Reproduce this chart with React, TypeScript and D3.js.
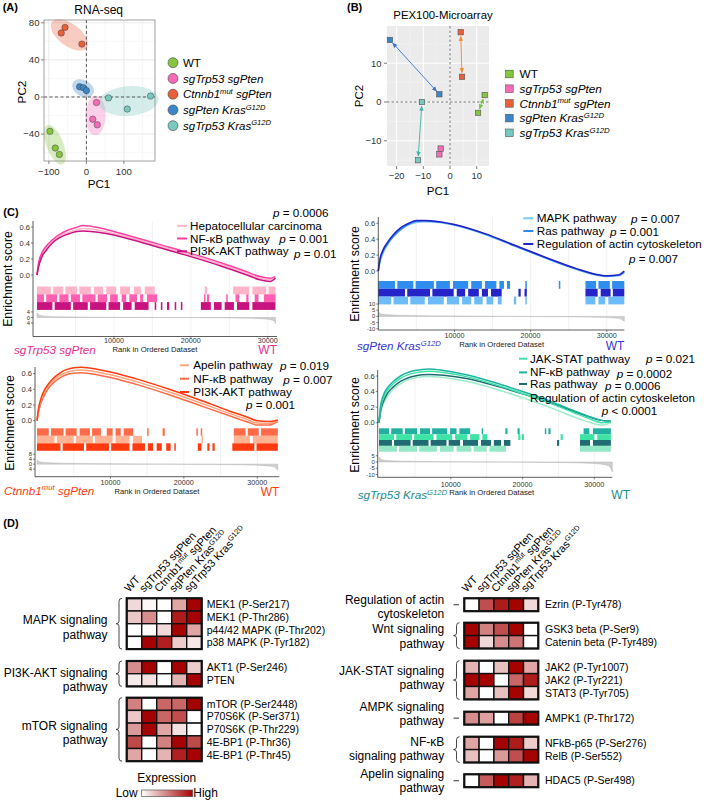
import React from 'react';
import * as d3 from 'd3';

const FONT = 'Arial, "Liberation Sans", Helvetica, sans-serif';

// genotype names, with superscript parts
const genoParts: [string, boolean?][][] = [
  [['WT']],
  [['sgTrp53 sgPten']],
  [['Ctnnb1'], ['mut', true], [' sgPten']],
  [['sgPten Kras'], ['G12D', true]],
  [['sgTrp53 Kras'], ['G12D', true]],
];
const groupColors = ['#86c540', '#f56cb6', '#e95f3a', '#3a86c8', '#78c8bd'];

// ---------- (A) RNA-seq PCA ----------
const rnaWT = [[-97, -37], [-83, -55], [-72, -62]];
const rnaTrpPten = [[27, -6], [17, -24], [29, -30]];
const rnaCtnnbPten = [[-57, 75], [-67, 69], [-12, 57]];
const rnaPtenKras = [[-18, 11], [-8, 10], [0, 7]];
const rnaTrpKras = [[59, -1], [109, -13], [171, 1]];
const rnaGroups = [rnaWT, rnaTrpPten, rnaCtnnbPten, rnaPtenKras, rnaTrpKras];
const rnaTicksX = [-100, 0, 100];
const rnaTicksY = [-40, 0, 40, 80];

// ---------- (B) PEX100 microarray PCA ----------
const pexWT = [[13, 1.8], [10.5, -2.8]];
const pexTrpPten = [[-3.5, -12], [-4, -13.5]];
const pexCtnnbPten = [[4, 18], [4.5, 6.5]];
const pexPtenKras = [[-22.5, 16], [-4, 2]];
const pexTrpKras = [[-10.5, 0], [-12, -15]];
const pexGroups = [pexWT, pexTrpPten, pexCtnnbPten, pexPtenKras, pexTrpKras];
const pexArrowColors = ['#79c43e', null, '#f28a2e', '#3b6fd4', '#3db3a5'];
const pexTicksX = [-20, -10, 0, 10];
const pexTicksY = [-10, 0, 10];

// ---------- (C) GSEA ----------
const ranksTL = [0, 200, 600, 1200, 2000, 3000, 4000, 5000, 6000, 7000, 9000, 12000, 16000, 20000, 24000, 27000, 29000, 30300, 31000];
const esHepatoTL = [0, 0.12, 0.25, 0.34, 0.42, 0.49, 0.53, 0.56, 0.58, 0.575, 0.54, 0.47, 0.36, 0.25, 0.13, 0.03, -0.04, -0.06, -0.03];
const esNfkbTL = [0, 0.15, 0.27, 0.36, 0.44, 0.51, 0.56, 0.59, 0.62, 0.61, 0.57, 0.49, 0.38, 0.27, 0.15, 0.05, -0.02, -0.04, -0.02];
const esPi3kTL = [0, 0.1, 0.22, 0.31, 0.4, 0.47, 0.51, 0.54, 0.55, 0.545, 0.52, 0.45, 0.34, 0.23, 0.11, 0.01, -0.06, -0.08, -0.04];
const hitsHepatoTL = [[0, 1800], [2100, 3400], [3700, 5200], [5500, 7000], [7400, 8600], [9000, 10300], [10800, 12100], [12600, 13500], [14000, 15300], [21800, 22100], [25500, 27600], [28000, 29800], [30100, 31000]];
const hitsNfkbTL = [[0, 900], [1200, 2600], [2900, 4100], [4400, 5600], [5900, 7600], [7900, 9100], [9500, 10500], [11000, 11600], [12000, 13000], [13400, 13800], [14300, 15600], [21700, 21900], [22100, 22400], [24600, 24800], [25800, 26300], [27200, 27500], [28300, 28800], [29500, 31000]];
const hitsPi3kTL = [[0, 2000], [2300, 4400], [4700, 6600], [6900, 9000], [9300, 10800], [11200, 12300], [12700, 14500], [15300, 15500], [16100, 16300], [16900, 17200], [17900, 18100], [18700, 18900], [21300, 22600], [23000, 24000], [24400, 25600], [26000, 27600], [28000, 31000]];
const metricTL = [[0, 3.5], [300, 1.8], [1000, 1], [3000, 0.5], [8000, 0.2], [15000, 0], [23000, -0.2], [28000, -0.6], [30000, -1.2], [30800, -2.5], [31000, -4.5]];

const ranksTR = [0, 200, 600, 1200, 2000, 3000, 4000, 5000, 6000, 8000, 10000, 14000, 18000, 22000, 26000, 28500, 30000, 31500, 32300];
const esMapkTR = [0, 0.1, 0.22, 0.33, 0.43, 0.52, 0.58, 0.61, 0.62, 0.61, 0.575, 0.46, 0.31, 0.16, 0.02, -0.05, -0.07, -0.06, -0.02];
const esRasTR = [0, 0.12, 0.24, 0.34, 0.44, 0.53, 0.59, 0.625, 0.63, 0.615, 0.58, 0.465, 0.315, 0.165, 0.025, -0.045, -0.065, -0.055, -0.01];
const esActinTR = [0, 0.14, 0.26, 0.36, 0.46, 0.55, 0.6, 0.635, 0.635, 0.62, 0.585, 0.47, 0.32, 0.17, 0.03, -0.04, -0.06, -0.05, 0];
const hitsRasTR = [[0, 2200], [2500, 4600], [4900, 7300], [7600, 9400], [9800, 11800], [12200, 13600], [14000, 15500], [15900, 16500], [16900, 17300], [19300, 19500], [23700, 23900], [27200, 28600], [28900, 30400], [30700, 32300]];
const hitsActinTR = [[0, 3500], [3800, 6800], [7100, 9900], [10300, 11400], [11800, 13200], [13600, 14400], [14800, 16200], [18400, 18700], [19200, 19500], [27200, 28800], [29200, 30500], [30800, 32300]];
const hitsMapkTR = [[0, 1700], [2000, 3900], [4200, 6100], [6500, 8600], [9000, 10600], [11000, 12200], [12600, 13700], [14200, 15100], [15700, 16200], [17800, 18100], [19300, 19500], [27200, 28500], [28900, 29800], [30200, 32300]];
const metricTR = [[0, 4], [300, 2.2], [1200, 1.3], [4000, 0.8], [10000, 0.3], [16000, 0], [24000, -0.3], [29000, -0.8], [31500, -1.6], [32300, -4]];

const ranksBL = [0, 200, 600, 1200, 2000, 3000, 4000, 5000, 6000, 8000, 10000, 14000, 18000, 22000, 26000, 28500, 30000, 31500, 32800];
const esPi3kBL = [0, 0.15, 0.3, 0.42, 0.52, 0.6, 0.65, 0.675, 0.68, 0.66, 0.62, 0.52, 0.4, 0.27, 0.13, 0.05, 0, -0.01, 0.01];
const esApelinBL = [0, 0.13, 0.27, 0.39, 0.49, 0.57, 0.615, 0.64, 0.645, 0.625, 0.585, 0.485, 0.365, 0.235, 0.1, 0.02, -0.03, -0.035, 0];
const esNfkbBL = [0, 0.11, 0.24, 0.36, 0.46, 0.54, 0.585, 0.605, 0.61, 0.59, 0.55, 0.45, 0.33, 0.2, 0.07, -0.01, -0.055, -0.055, -0.01];
const hitsNfkbBL = [[0, 1600], [1900, 3600], [3900, 5400], [5800, 7200], [7500, 8700], [9500, 10300], [10700, 11400], [11800, 13100], [15000, 15200], [17100, 17400], [21700, 21900], [22300, 22500], [26800, 28400], [28700, 30200], [30500, 32800]];
const hitsApelinBL = [[0, 2400], [2700, 5000], [5300, 7600], [7900, 10300], [10700, 12600], [13100, 14300], [22400, 22600], [26800, 29000], [29400, 32800]];
const hitsPi3kBL = [[0, 3200], [3500, 6400], [6700, 9800], [10100, 12600], [13000, 14700], [15100, 15800], [16300, 17000], [17600, 18200], [18700, 18900], [21900, 22400], [23200, 23500], [23900, 24200], [26600, 29600], [29900, 32800]];
const metricBL = [[0, 3.5], [300, 2], [1500, 1.2], [5000, 0.6], [10000, 0.25], [17000, 0], [25000, -0.3], [30000, -0.9], [32200, -2], [32800, -5]];

const ranksBR = [0, 200, 600, 1200, 2000, 3000, 4000, 5000, 6000, 7000, 9000, 12000, 16000, 20000, 24000, 27000, 29500, 31000, 32300];
const esNfkbBR = [0, 0.2, 0.35, 0.45, 0.53, 0.6, 0.645, 0.67, 0.685, 0.69, 0.67, 0.62, 0.52, 0.4, 0.27, 0.16, 0.07, 0.03, 0.02];
const esJakBR = [0, 0.17, 0.31, 0.42, 0.5, 0.57, 0.615, 0.64, 0.655, 0.66, 0.645, 0.595, 0.495, 0.375, 0.245, 0.135, 0.045, 0, 0.01];
const esRasBR = [0, 0.14, 0.27, 0.38, 0.46, 0.53, 0.575, 0.6, 0.615, 0.62, 0.61, 0.57, 0.48, 0.37, 0.25, 0.15, 0.07, 0.03, 0.02];
const esActinBR = [0, 0.12, 0.24, 0.34, 0.43, 0.5, 0.55, 0.575, 0.59, 0.595, 0.58, 0.535, 0.44, 0.32, 0.19, 0.08, 0, -0.03, 0];
const hitsNfkbBR = [[0, 1400], [1700, 3300], [3600, 5300], [5700, 7100], [7400, 9500], [9900, 10800], [11200, 12700], [14300, 14500], [17600, 17900], [19300, 19600], [23100, 23300], [23600, 23900], [28500, 29300], [29800, 32300]];
const hitsJakBR = [[0, 2100], [2400, 4600], [4900, 7600], [8000, 10200], [10600, 12300], [12700, 14000], [14400, 15100], [19400, 19700], [19900, 20200], [25300, 25600], [28000, 30000], [30400, 32300]];
const hitsRasBR = [[0, 1800], [2100, 4400], [4700, 6900], [7200, 9400], [9700, 11300], [11700, 13800], [14200, 15600], [16000, 17000], [17400, 18300], [24800, 25100], [28000, 29400], [29800, 32300]];
const hitsActinBR = [[0, 2500], [2800, 5300], [5600, 8100], [8500, 10400], [10800, 12800], [13200, 15000], [15400, 17700], [28000, 32300]];
const metricBR = [[0, 4], [300, 2], [1500, 1], [5000, 0.5], [10000, 0.2], [17000, 0], [25000, -0.4], [30000, -1.2], [32000, -3], [32500, -8]];

// ---------- (D) heatmaps ----------
const mapkProteins = ['MEK1 (P-Ser217)', 'MEK1 (P-Thr286)', 'p44/42 MAPK (P-Thr202)', 'p38 MAPK (P-Tyr182)'];
const mapkExpr = [[0.15, 0.03, 0, 0.35, 1], [0.22, 0.45, 0, 0.9, 1], [0, 0.02, 0.15, 1, 0.35], [0, 1, 0.88, 0.2, 0.1]];
const pi3kProteins = ['AKT1 (P-Ser246)', 'PTEN'];
const pi3kExpr = [[0.45, 1, 0, 1, 0.2], [0.08, 0.12, 0, 0.3, 1]];
const mtorProteins = ['mTOR (P-Ser2448)', 'P70S6K (P-Ser371)', 'P70S6K (P-Thr229)', '4E-BP1 (P-Thr36)', '4E-BP1 (P-Thr45)'];
const mtorExpr = [[0.5, 0, 0.6, 0.6, 1], [0.22, 1, 0.6, 0.7, 0], [0.4, 1, 0.35, 0.12, 0], [0.72, 0, 0.5, 1, 0.72], [0.35, 0, 0.3, 0.88, 1]];
const actinProteins = ['Ezrin (P-Tyr478)'];
const actinExpr = [[0, 0.7, 0.9, 1, 0.15]];
const wntProteins = ['GSK3 beta (P-Ser9)', 'Catenin beta (P-Tyr489)'];
const wntExpr = [[1, 0.5, 0.7, 1, 0], [1, 0.15, 0.45, 0.55, 0]];
const jakProteins = ['JAK2 (P-Tyr1007)', 'JAK2 (P-Tyr221)', 'STAT3 (P-Tyr705)'];
const jakExpr = [[0.3, 0, 0.25, 1, 0.35], [1, 1, 0, 0.6, 0.9], [0.35, 0, 0.25, 1, 0.15]];
const ampkProteins = ['AMPK1 (P-Thr172)'];
const ampkExpr = [[0.45, 0.38, 0, 0.75, 1]];
const nfkbProteins = ['NFkB-p65 (P-Ser276)', 'RelB (P-Ser552)'];
const nfkbExpr = [[0.35, 0, 1, 0.9, 0.2], [0.25, 0, 0.4, 0.7, 1]];
const apelinProteins = ['HDAC5 (P-Ser498)'];
const apelinExpr = [[0, 0.65, 1, 0.88, 0.3]];

const heatColor = d3.scaleLinear<string>().domain([0, 1]).range(['#ffffff', '#a50202']).interpolate(d3.interpolateRgb);

function Rich({ parts, size, ...rest }: any) {
  let up = false;
  const spans = parts.map((p: any, i: number) => {
    const sup = !!p[1];
    let dy = 0;
    if (sup && !up) { dy = -size * 0.38; up = true; }
    else if (!sup && up) { dy = size * 0.38; up = false; }
    return <tspan key={i} dy={dy} fontSize={sup ? size * 0.66 : size}>{p[0]}</tspan>;
  });
  return <text fontSize={size} {...rest}>{spans}</text>;
}

function clusterEllipse(pts: number[][], sx: any, sy: any) {
  const p = pts.map(d => [sx(d[0]), sy(d[1])]);
  const mx = d3.mean(p, d => d[0]) as number;
  const my = d3.mean(p, d => d[1]) as number;
  let sxx = 0, syy = 0, sxy = 0;
  p.forEach(([a, b]) => { sxx += (a - mx) ** 2; syy += (b - my) ** 2; sxy += (a - mx) * (b - my); });
  sxx /= p.length; syy /= p.length; sxy /= p.length;
  const tr = (sxx + syy) / 2, det = Math.sqrt(((sxx - syy) / 2) ** 2 + sxy ** 2);
  const l1 = tr + det, l2 = Math.max(tr - det, 0);
  const ang = 0.5 * Math.atan2(2 * sxy, sxx - syy) * 180 / Math.PI;
  return { cx: mx, cy: my, rx: Math.sqrt(l1) * 1.3 + 7.5, ry: Math.sqrt(l2) * 1.3 + 7.5, ang };
}

function PanelA() {
  const x = d3.scaleLinear().domain([-113, 183]).range([44, 155]);
  const y = d3.scaleLinear().domain([-69, 83]).range([161, 20]);
  const minorX = [-50, 50, 150];
  const minorY = [-60, -20, 20, 60];
  return (
    <g>
      <rect x={44} y={20} width={111} height={141} fill="#fff" />
      {minorX.map(v => <line key={'mx' + v} x1={x(v)} x2={x(v)} y1={20} y2={161} stroke="#f3f3f3" strokeWidth={0.6} />)}
      {minorY.map(v => <line key={'my' + v} y1={y(v)} y2={y(v)} x1={44} x2={155} stroke="#f3f3f3" strokeWidth={0.6} />)}
      {rnaTicksX.map(v => <line key={'gx' + v} x1={x(v)} x2={x(v)} y1={20} y2={161} stroke="#e6e6e6" strokeWidth={0.9} />)}
      {rnaTicksY.map(v => <line key={'gy' + v} y1={y(v)} y2={y(v)} x1={44} x2={155} stroke="#e6e6e6" strokeWidth={0.9} />)}
      {rnaGroups.map((g, i) => {
        const e = clusterEllipse(g, x, y);
        return <ellipse key={'e' + i} cx={e.cx} cy={e.cy} rx={e.rx} ry={e.ry} transform={`rotate(${e.ang} ${e.cx} ${e.cy})`} fill={groupColors[i]} fillOpacity={0.32} />;
      })}
      <line x1={x(0)} x2={x(0)} y1={20} y2={161} stroke="#333" strokeWidth={0.8} strokeDasharray="3,2.5" />
      <line y1={y(0)} y2={y(0)} x1={44} x2={155} stroke="#333" strokeWidth={0.8} strokeDasharray="3,2.5" />
      {rnaGroups.map((g, i) => g.map((d, j) => (
        <circle key={`p${i}-${j}`} cx={x(d[0])} cy={y(d[1])} r={3.2} fill={groupColors[i]} stroke="#444" strokeWidth={0.5} />
      )))}
      <rect x={44} y={20} width={111} height={141} fill="none" stroke="#8a8a8a" strokeWidth={0.8} />
      {rnaTicksX.map(v => (
        <g key={'tx' + v}>
          <line x1={x(v)} x2={x(v)} y1={161} y2={164} stroke="#555" strokeWidth={0.7} />
          <text x={x(v)} y={174.5} fontSize={9.6} textAnchor="middle" fill="#333">{v < 0 ? '\u2212' + Math.abs(v) : v}</text>
        </g>
      ))}
      {rnaTicksY.map(v => (
        <g key={'ty' + v}>
          <line x1={41} x2={44} y1={y(v)} y2={y(v)} stroke="#555" strokeWidth={0.7} />
          <text x={39.5} y={y(v) + 3.4} fontSize={9.6} textAnchor="end" fill="#333">{v < 0 ? '\u2212' + Math.abs(v) : v}</text>
        </g>
      ))}
      <text x={99} y={188} fontSize={11.7} textAnchor="middle">PC1</text>
      <text transform="translate(26,92) rotate(-90)" fontSize={11.7} textAnchor="middle">PC2</text>
      <text x={98.7} y={13.5} fontSize={12} textAnchor="middle">RNA-seq</text>
      {genoParts.map((p, i) => (
        <g key={'lg' + i}>
          <circle cx={173} cy={62.7 + i * 15.75} r={5} fill={groupColors[i]} stroke="#444" strokeWidth={0.6} />
          <Rich parts={p} size={11.5} x={183} y={62.7 + i * 15.75 + 4.1} fontStyle={i === 0 ? 'normal' : 'italic'} />
        </g>
      ))}
    </g>
  );
}

function PanelB() {
  const x = d3.scaleLinear().domain([-23.6, 14.6]).range([387, 489]);
  const y = d3.scaleLinear().domain([-16.5, 19.6]).range([166, 26]);
  const minorX = [-15, -5, 5];
  const minorY = [-15, -5, 5, 15];
  const s = 5.4;
  return (
    <g>
      <defs>
        {pexArrowColors.map((c, i) => c && (
          <marker key={i} id={`pexArrow${i}`} viewBox="0 0 10 10" refX={9} refY={5} markerWidth={5} markerHeight={5} markerUnits="userSpaceOnUse" orient="auto-start-reverse">
            <path d="M0,0.5 L10,5 L0,9.5 z" fill={c} />
          </marker>
        ))}
      </defs>
      <rect x={387} y={26} width={102} height={140} fill="#ebebeb" />
      {minorX.map(v => <line key={'mx' + v} x1={x(v)} x2={x(v)} y1={26} y2={166} stroke="#f6f6f6" strokeWidth={0.5} />)}
      {minorY.map(v => <line key={'my' + v} y1={y(v)} y2={y(v)} x1={387} x2={489} stroke="#f6f6f6" strokeWidth={0.5} />)}
      {pexTicksX.map(v => <line key={'gx' + v} x1={x(v)} x2={x(v)} y1={26} y2={166} stroke="#fff" strokeWidth={1} />)}
      {pexTicksY.map(v => <line key={'gy' + v} y1={y(v)} y2={y(v)} x1={387} x2={489} stroke="#fff" strokeWidth={1} />)}
      <line x1={x(0)} x2={x(0)} y1={26} y2={166} stroke="#555" strokeWidth={0.8} strokeDasharray="2.5,2" />
      <line y1={y(0)} y2={y(0)} x1={387} x2={489} stroke="#555" strokeWidth={0.8} strokeDasharray="2.5,2" />
      {pexGroups.map((g, i) => {
        const c = pexArrowColors[i];
        if (!c) return null;
        const ax = x(g[0][0]), ay = y(g[0][1]), bx = x(g[1][0]), by = y(g[1][1]);
        const L = Math.hypot(bx - ax, by - ay);
        const ux = (bx - ax) / L, uy = (by - ay) / L;
        const sh = 4.2;
        return <line key={'ar' + i} x1={ax + ux * sh} y1={ay + uy * sh} x2={bx - ux * sh} y2={by - uy * sh} stroke={c} strokeWidth={0.9}
          markerStart={`url(#pexArrow${i})`} markerEnd={`url(#pexArrow${i})`} />;
      })}
      {pexGroups.map((g, i) => g.map((d, j) => (
        <rect key={`q${i}-${j}`} x={x(d[0]) - s / 2} y={y(d[1]) - s / 2} width={s} height={s} fill={groupColors[i]} stroke="#555" strokeWidth={0.6} />
      )))}
      {pexTicksX.map(v => (
        <g key={'tx' + v}>
          <line x1={x(v)} x2={x(v)} y1={166} y2={169} stroke="#444" strokeWidth={0.7} />
          <text x={x(v)} y={179} fontSize={9.4} textAnchor="middle" fill="#333">{v < 0 ? '\u2212' + Math.abs(v) : v}</text>
        </g>
      ))}
      {pexTicksY.map(v => (
        <g key={'ty' + v}>
          <line x1={384} x2={387} y1={y(v)} y2={y(v)} stroke="#444" strokeWidth={0.7} />
          <text x={381.5} y={y(v) + 3.3} fontSize={9.4} textAnchor="end" fill="#333">{v < 0 ? '\u2212' + Math.abs(v) : v}</text>
        </g>
      ))}
      <text x={438} y={195} fontSize={11.5} textAnchor="middle">PC1</text>
      <text transform="translate(362.5,96) rotate(-90)" fontSize={11.5} textAnchor="middle">PC2</text>
      <text x={443} y={18.5} fontSize={11.4} textAnchor="middle">PEX100-Microarray</text>
      {genoParts.map((p, i) => (
        <g key={'lg' + i}>
          <rect x={505.6} y={74 + i * 14.7 - 3.8} width={7.6} height={7.6} fill={groupColors[i]} stroke="#555" strokeWidth={0.6} />
          <Rich parts={p} size={11.8} x={519.5} y={74 + i * 14.7 + 4.2} fontStyle={i === 0 ? 'normal' : 'italic'} />
        </g>
      ))}
    </g>
  );
}

const gseaPanels = [
  {
    ranks: ranksTL, xDomain: [0, 31200], xRange: [37, 277], axisLeft: 33,
    esZero: 275, es06: 227, axisTop: 221, hitTop: 286.5, hitH: 7.8,
    metric: metricTL, metricDomain: [-13.7, 4.7], metricRange: [336.5, 311], metricTicks: [4, 0, -4], metricLabels: ['4', '0', '4'],
    bottom: 336.5, xTickY: 342.6, rankX: 155, rankY: 351.7,
    geno: 1, genoColor: '#e6318d', genoX: 14, genoY: 353.8, wtX: 277, wtY: 354.3, esLabelX: 12, esLabelY: 279,
    curves: [
      { es: esHepatoTL, color: '#ffb5c9' }, { es: esNfkbTL, color: '#ff3fa2' }, { es: esPi3kTL, color: '#c8127f' },
    ],
    hits: [{ seg: hitsHepatoTL, color: '#ffb5c9' }, { seg: hitsNfkbTL, color: '#ff5fb0' }, { seg: hitsPi3kTL, color: '#c8127f' }],
    legend: [
      { label: 'Hepatocellular carcinoma', color: '#ffb5c9', p: ' = 0.0006' },
      { label: 'NF-\u03baB pathway', color: '#ff3fa2', p: ' = 0.001' },
      { label: 'PI3K-AKT pathway', color: '#c8127f', p: ' = 0.01' },
    ],
    legX: 190, legMarker: [177, 187], legY: [229.8, 242.5, 255.3], pPos: [[273, 217], [279.3, 243.3], [294, 258.3]],
  },
  {
    ranks: ranksTR, xDomain: [0, 32300], xRange: [378.3, 624.3], axisLeft: 378.3,
    esZero: 271, es06: 223.3, axisTop: 217, hitTop: 281, hitH: 7.8,
    metric: metricTR, metricDomain: [-11, 10], metricRange: [330, 304], metricTicks: [10, 5, 0, -5, -10], metricLabels: ['10', '5', '0', '-5', '-10'],
    bottom: 330, xTickY: 338.3, rankX: 501.7, rankY: 346.7,
    geno: 3, genoColor: '#3535cf', genoX: 357, genoY: 350, wtX: 624.3, wtY: 350, esLabelX: 359, esLabelY: 274,
    curves: [
      { es: esMapkTR, color: '#7cc8f8' }, { es: esRasTR, color: '#2f88ee' }, { es: esActinTR, color: '#2222c8' },
    ],
    hits: [{ seg: hitsRasTR, color: '#2f8df0' }, { seg: hitsActinTR, color: '#2424c8' }, { seg: hitsMapkTR, color: '#6cbcfa' }],
    legend: [
      { label: 'MAPK pathway', color: '#7cc8f8', p: ' = 0.007' },
      { label: 'Ras pathway', color: '#2f88ee', p: ' = 0.001' },
      { label: 'Regulation of actin cytoskeleton', color: '#2222c8', p: ' = 0.007' },
    ],
    legX: 536.7, legMarker: [523.3, 533.3], legY: [222.3, 235, 248], pPos: [[631, 223.3], [610, 236.2], [629, 262.7]],
  },
  {
    ranks: ranksBL, xDomain: [0, 33000], xRange: [37, 279.3], axisLeft: 35,
    esZero: 420.7, es06: 373.6, axisTop: 367, hitTop: 428.3, hitH: 7.5,
    metric: metricBL, metricDomain: [-10, 9], metricRange: [476.5, 453], metricTicks: [8, 4, 0, -4], metricLabels: ['8', '4', '0', '4'],
    bottom: 476.7, xTickY: 484.6, rankX: 157, rankY: 494,
    geno: 2, genoColor: '#ff3c0c', genoX: 4, genoY: 494.5, wtX: 279.3, wtY: 495.8, esLabelX: 13.5, esLabelY: 423,
    curves: [
      { es: esNfkbBL, color: '#ff6a48' }, { es: esApelinBL, color: '#ffa57c' }, { es: esPi3kBL, color: '#ff3a0e' },
    ],
    hits: [{ seg: hitsNfkbBL, color: '#ff6a48' }, { seg: hitsApelinBL, color: '#ffb392' }, { seg: hitsPi3kBL, color: '#ff3a0e' }],
    legend: [
      { label: 'Apelin pathway', color: '#ffa57c', p: ' = 0.019' },
      { label: 'NF-\u03baB pathway', color: '#ff6a48', p: ' = 0.007' },
      { label: 'PI3K-AKT pathway', color: '#ff3a0e', p: ' = 0.001' },
    ],
    legX: 193.3, legMarker: [180, 189], legY: [369.3, 382.7, 396], pPos: [[280, 370], [283.3, 384], [246, 409.3]],
  },
  {
    ranks: ranksBR, xDomain: [0, 32500], xRange: [379, 612.3], axisLeft: 377.7,
    esZero: 422.7, es06: 376, axisTop: 370, hitTop: 428.3, hitH: 5.85,
    metric: metricBR, metricDomain: [-12, 6], metricRange: [477, 454.5], metricTicks: [5, 0, -5, -10], metricLabels: ['5', '0', '-5', '-10'],
    bottom: 477.3, xTickY: 486.7, rankX: 491.7, rankY: 495,
    geno: 4, genoColor: '#1b8b8b', genoX: 357.7, genoY: 499.3, wtX: 630, wtY: 499.3, esLabelX: 359, esLabelY: 425,
    curves: [
      { es: esActinBR, color: '#9eeccc' }, { es: esRasBR, color: '#1f6d72' }, { es: esJakBR, color: '#3fe3a6' }, { es: esNfkbBR, color: '#1fb3a3' },
    ],
    hits: [{ seg: hitsNfkbBR, color: '#22b0a0' }, { seg: hitsJakBR, color: '#3fe3a6' }, { seg: hitsRasBR, color: '#1f6d72' }, { seg: hitsActinBR, color: '#93e8c6' }],
    legend: [
      { label: 'JAK-STAT pathway', color: '#3fe3a6', p: ' = 0.021' },
      { label: 'NF-\u03baB pathway', color: '#1fb3a3', p: ' = 0.0002' },
      { label: 'Ras pathway', color: '#1f6d72', p: ' = 0.0006' },
      { label: 'Regulation of actin cytoskeleton', color: '#c8f5e2', p: ' < 0.0001' },
    ],
    legX: 530, legMarker: [519, 527], legY: [362.7, 376.4, 388, 402.3], pPos: [[646, 362.7], [616.7, 377.6], [605, 389.6], [601.7, 415.3]],
  },
];

function Gsea({ g }: { g: any }) {
  const x = d3.scaleLinear().domain(g.xDomain).range(g.xRange);
  const es = d3.scaleLinear().domain([0, 0.6]).range([g.esZero, g.es06]);
  const m = d3.scaleLinear().domain(g.metricDomain).range(g.metricRange);
  const right = g.xRange[1];
  const line = (vals: number[]) => d3.line().x((d: any, i: number) => x(g.ranks[i])).y((d: any) => es(d)).curve(d3.curveMonotoneX)(vals as any) as string;
  const area = d3.area().x((d: any) => x(d[0])).y0(m(0)).y1((d: any) => m(d[1])).curve(d3.curveMonotoneX)(g.metric) as string;
  const grid = d3.range(5000, g.xDomain[1], 5000);
  const xTicks = [10000, 20000, 30000];
  const esTicks = [0, 0.2, 0.4, 0.6];
  return (
    <g>
      {grid.map((r: number) => <line key={'g' + r} x1={x(r)} x2={x(r)} y1={g.axisTop} y2={g.bottom} stroke="#ececec" strokeWidth={0.7} />)}
      <path d={area} fill="#cfcfcf" stroke="#a8a8a8" strokeWidth={0.4} />
      {g.hits.map((h: any, r: number) => h.seg.map((s: number[], k: number) => (
        <rect key={`h${r}-${k}`} x={x(s[0])} y={g.hitTop + r * g.hitH} width={Math.max(x(s[1]) - x(s[0]), 0.9)} height={g.hitH} fill={h.color} />
      )))}
      {g.curves.map((c: any, i: number) => <path key={'c' + i} d={line(c.es)} fill="none" stroke={c.color} strokeWidth={1.5} />)}
      <line x1={g.axisLeft} x2={g.axisLeft} y1={g.axisTop} y2={g.bottom} stroke="#333" strokeWidth={0.8} />
      <line x1={g.axisLeft} x2={right} y1={g.bottom} y2={g.bottom} stroke="#333" strokeWidth={0.8} />
      {esTicks.map(v => (
        <g key={'e' + v}>
          <line x1={g.axisLeft - 2} x2={g.axisLeft} y1={es(v)} y2={es(v)} stroke="#333" strokeWidth={0.6} />
          <text x={g.axisLeft - 3} y={es(v) + 2.6} fontSize={7.5} textAnchor="end" fill="#333">{v.toFixed(1)}</text>
        </g>
      ))}
      {g.metricTicks.map((v: number, i: number) => (
        <g key={'m' + v}>
          <line x1={g.axisLeft - 2} x2={g.axisLeft} y1={m(v)} y2={m(v)} stroke="#333" strokeWidth={0.6} />
          <text x={g.axisLeft - 3} y={m(v) + 2.1} fontSize={5.8} textAnchor="end" fill="#333">{g.metricLabels[i]}</text>
        </g>
      ))}
      {xTicks.map(v => (
        <g key={'x' + v}>
          <line x1={x(v)} x2={x(v)} y1={g.bottom} y2={g.bottom + 2} stroke="#333" strokeWidth={0.6} />
          <text x={x(v)} y={g.xTickY} fontSize={7.2} textAnchor="middle" fill="#333">{v}</text>
        </g>
      ))}
      <text x={g.rankX} y={g.rankY} fontSize={7.7} textAnchor="middle" fill="#222">Rank in Ordered Dataset</text>
      <text transform={`translate(${g.esLabelX},${g.esLabelY}) rotate(-90)`} fontSize={12.3} textAnchor="middle">Enrichment score</text>
      <Rich parts={genoParts[g.geno]} size={11.7} x={g.genoX} y={g.genoY} fill={g.genoColor} fontStyle="italic" />
      <text x={g.wtX} y={g.wtY} fontSize={12} textAnchor="end" fill={g.genoColor}>WT</text>
      {g.legend.map((l: any, i: number) => (
        <g key={'l' + i}>
          <line x1={g.legMarker[0]} x2={g.legMarker[1]} y1={g.legY[i] - 4} y2={g.legY[i] - 4} stroke={l.color} strokeWidth={2} />
          <text x={g.legX} y={g.legY[i]} fontSize={11.7}>{l.label}</text>
          <text x={g.pPos[i][0]} y={g.pPos[i][1]} fontSize={11.7}><tspan fontStyle="italic">p</tspan>{l.p}</text>
        </g>
      ))}
    </g>
  );
}

const leftBlocks = [
  { pathway: ['MAPK signaling', 'pathway'], proteins: mapkProteins, expr: mapkExpr },
  { pathway: ['PI3K-AKT signaling', 'pathway'], proteins: pi3kProteins, expr: pi3kExpr },
  { pathway: ['mTOR signaling', 'pathway'], proteins: mtorProteins, expr: mtorExpr },
];
const rightBlocks = [
  { pathway: ['Regulation of actin', 'cytoskeleton'], proteins: actinProteins, expr: actinExpr },
  { pathway: ['Wnt signaling', 'pathway'], proteins: wntProteins, expr: wntExpr },
  { pathway: ['JAK-STAT signaling', 'pathway'], proteins: jakProteins, expr: jakExpr },
  { pathway: ['AMPK signaling', 'pathway'], proteins: ampkProteins, expr: ampkExpr },
  { pathway: ['NF-\u03baB', 'signaling pathway'], proteins: nfkbProteins, expr: nfkbExpr },
  { pathway: ['Apelin signaling', 'pathway'], proteins: apelinProteins, expr: apelinExpr },
];

function Heatmap({ blocks, layout }: any) {
  const { cellX, colW, rowH, tops, labelRight, labelY, protX, braceX } = layout;
  const col = d3.scaleBand().domain(d3.range(5) as any).range([cellX, cellX + colW * 5]);
  return (
    <g>
      {genoParts.map((p, i) => (
        <Rich key={'h' + i} parts={p} size={11} transform={`translate(${(col(i as any) as number) + colW / 2 - 5.2},${tops[0] - 5.6}) rotate(-47)`} />
      ))}
      {blocks.map((b: any, bi: number) => {
        const top = tops[bi];
        const h = rowH * b.proteins.length;
        const mid = top + h / 2;
        const bx = braceX;
        const brace = `M${bx},${top} Q${bx - 3},${top} ${bx - 3},${top + 3} L${bx - 3},${mid - 2.5} Q${bx - 3},${mid} ${bx - 6},${mid} Q${bx - 3},${mid} ${bx - 3},${mid + 2.5} L${bx - 3},${top + h - 3} Q${bx - 3},${top + h} ${bx},${top + h}`;
        return (
          <g key={'b' + bi}>
            {b.expr.map((row: number[], ri: number) => row.map((v, ci) => (
              <rect key={`c${ri}-${ci}`} x={col(ci as any)} y={top + ri * rowH} width={colW} height={rowH} fill={heatColor(v)} stroke="#111" strokeWidth={1.4} />
            )))}
            <rect x={cellX} y={top} width={colW * 5} height={h} fill="none" stroke="#111" strokeWidth={2.2} />
            {b.proteins.map((p: string, ri: number) => (
              <text key={'p' + ri} x={protX} y={top + ri * rowH + rowH / 2 + 3.7} fontSize={10.5}>{p}</text>
            ))}
            {b.proteins.length > 1
              ? <path d={brace} fill="none" stroke="#333" strokeWidth={0.9} />
              : <line x1={bx - 6} x2={bx - 0.5} y1={mid} y2={mid} stroke="#333" strokeWidth={1} />}
            {b.pathway.map((t: string, li: number) => (
              <text key={'t' + li} x={labelRight} y={labelY[bi] + li * 14.3} fontSize={12} textAnchor="end">{t}</text>
            ))}
          </g>
        );
      })}
    </g>
  );
}

export default function App() {
  return (
    <svg width={709} height={802} fontFamily={FONT} style={{ position: 'absolute', left: 0, top: 0, background: '#fff' }}>
      <defs>
        <linearGradient id="exprGrad" x1="0" x2="1" y1="0" y2="0">
          <stop offset="0" stopColor={heatColor(0)} />
          <stop offset="1" stopColor={heatColor(1)} />
        </linearGradient>
      </defs>
      <rect width={709} height={802} fill="#fff" />
      <text x={2.7} y={11} fontSize={11} fontWeight="bold">(A)</text>
      <text x={347} y={11} fontSize={11} fontWeight="bold">(B)</text>
      <text x={3.3} y={215.7} fontSize={11} fontWeight="bold">(C)</text>
      <text x={3.3} y={526.7} fontSize={11} fontWeight="bold">(D)</text>
      <PanelA />
      <PanelB />
      {gseaPanels.map((g, i) => <Gsea key={i} g={g} />)}
      <Heatmap blocks={leftBlocks} layout={{ cellX: 126.7, colW: 15, rowH: 12.7, tops: [598.3, 661, 697.7], labelRight: 107.5, labelY: [624.3, 676.7, 730], protX: 206.7, braceX: 122 }} />
      <Heatmap blocks={rightBlocks} layout={{ cellX: 464.3, colW: 14.8, rowH: 12.9, tops: [598.3, 622.7, 660.7, 711.7, 736.7, 774.3], labelRight: 444.3, labelY: [604, 633.3, 675, 711, 746, 777.7], protX: 545, braceX: 459.5 }} />
      <text x={166.7} y={781.7} fontSize={11.9} textAnchor="middle">Expression</text>
      <text x={137.5} y={796.7} fontSize={11.9} textAnchor="end">Low</text>
      <rect x={141.7} y={790} width={51} height={6.7} fill="url(#exprGrad)" stroke="#555" strokeWidth={0.7} />
      <text x={193.3} y={796.7} fontSize={11.9}>High</text>
    </svg>
  );
}
